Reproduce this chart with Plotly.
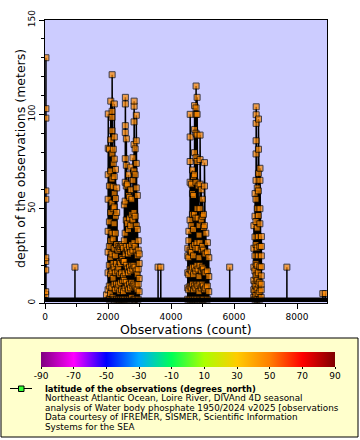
import plotly.graph_objects as go

# ---------------- data ----------------
# Observation series: each profile = first observation number + depths (m) of consecutive observations
profile_start = [
    20, 950, 1950,
    2000, 2040, 2080, 2120, 2160, 2190, 2230, 2270,
    2310, 2340, 2370, 2400, 2430, 2460, 2490,
    2515, 2540, 2575,
    2610, 2645, 2680, 2715, 2750, 2785,
    2820, 2855, 2890, 2925, 2955, 2985,
    3588, 3674,
    4530, 4562, 4600, 4640, 4675, 4710, 4740, 4785, 4820, 4855, 4885, 4915,
    4955, 4990, 5025, 5055, 5100, 5150, 5195,
    5861,
    6625, 6660, 6690, 6730, 6765, 6815, 6860,
    7676, 8817, 8893,
]
profile_depths = [
    [1.7, 4.5, 6, 17.5, 22, 24, 55, 59.4, 98, 103, 130, 1.7],
    [1.7, 19, 1.7],
    [1.7, 4.3, 1.7],
    [1, 7, 16, 27, 38, 55, 68, 82, 100.2],
    [2, 9, 20, 30, 43, 62, 81.5],
    [1, 5, 15, 24, 33, 48, 70, 86.5, 107],
    [1, 8, 17, 26, 37, 53, 65.7, 79, 91.3, 98.4, 101.6, 121],
    [3, 13, 21, 34, 50, 61.6, 74, 81.5],
    [2, 10, 19, 29, 42, 50.9, 58, 67, 76.3, 88, 105.5],
    [1, 7, 16, 25, 37, 46, 55.4, 70.8],
    [2, 10, 21, 31, 48, 61],
    [1, 8, 17, 28],
    [2, 10, 19, 30],
    [1, 6, 15, 22, 29],
    [2, 11, 21, 30],
    [1, 7, 16, 24, 31],
    [2, 12, 23, 30],
    [1, 6, 14, 22, 29],
    [2, 12, 22, 33, 52],
    [1, 8, 16, 26, 37, 54, 64, 76.5, 90.4, 94, 105.5, 109],
    [1, 11, 20, 30, 44, 62, 73, 87],
    [2, 9, 18, 28, 42, 63],
    [1, 7, 16, 26, 39, 57, 68],
    [2, 10, 19, 30, 45, 56],
    [1, 8, 17, 27, 41, 60, 72],
    [3, 11, 20, 31, 47, 55],
    [1, 9, 18, 28, 44, 65, 77],
    [2, 10, 20, 32, 48, 70, 84, 96, 104.3, 107],
    [2, 9, 19, 30, 46, 68, 81.7],
    [1, 8, 17, 27, 41, 61, 74, 86, 99.5],
    [1, 7, 15, 25, 39, 57],
    [2, 10, 18, 28, 33],
    [1, 6, 13, 21, 26, 1.7],
    [1.7, 19, 1.7],
    [1.7, 19, 1.7],
    [2, 8, 16, 25, 29],
    [1, 7, 15, 24, 33, 38],
    [2, 9, 18, 28, 44, 64, 75, 88, 100],
    [1, 8, 17, 27, 41, 63],
    [2, 10, 19, 30, 47, 58, 70.5],
    [1, 7, 15, 25, 39, 57, 67],
    [2, 9, 19, 31, 47, 68, 79.7, 92, 104.6],
    [1, 8, 17, 29, 45, 64, 77, 90, 100, 103.4, 115],
    [2, 10, 20, 32, 50, 75, 89, 100, 109],
    [1, 9, 18, 29, 45, 62],
    [1, 6, 14, 24, 36, 41],
    [2, 10, 20, 32, 50, 63, 76, 89],
    [1, 8, 17, 28, 44, 60],
    [2, 10, 19, 30, 46, 55],
    [2, 9, 18, 28, 40, 47],
    [1, 7, 16, 26, 41, 62, 74.4],
    [1, 8, 16, 26, 37],
    [2, 9, 17, 27, 32],
    [1, 6, 14, 24, 1.7],
    [1.7, 19, 1.7],
    [1, 3, 7, 12, 19, 29, 41],
    [2, 6, 10, 17, 25, 35, 46, 58],
    [1, 4, 9, 14.4, 21, 31, 43.2, 55, 65, 79, 86, 95.2, 99.8, 104],
    [2, 7, 12, 20, 29.2, 39.7, 50, 61],
    [1, 5, 10, 16, 25, 35.2, 46.4, 59.4, 68.7, 81.5, 97.5],
    [2, 6, 11, 19.2, 30, 42, 50, 65, 71.4],
    [1, 3, 7, 10, 14.4, 19.2, 25, 30, 35.2, 1.7],
    [1.7, 19, 1.7],
    [1.7, 5, 1.7],
    [1.7, 5, 1.7],
]
station_latitude = 47.2          # degrees_north (Loire River mouth)
surface_obs = [0, 8950]           # near-surface observations forming the bottom band
surface_depth = [1.7, 1.7]

x_ticks = [0, 2000, 4000, 6000, 8000]
x_minor = [1000, 3000, 5000, 7000]
y_ticks = [0, 50, 100, 150]
y_minor = [10, 20, 30, 40, 60, 70, 80, 90, 110, 120, 130, 140]
cbar_values = [-90, -70, -50, -30, -10, 10, 30, 50, 70, 90]
cbar_labels = ["-90", "-70", "-50", "-30", "-10", "10", "30", "50", "70", "90"]
cbar_colors = ["#7f007f", "#ff00ff", "#0000ff", "#00aaff", "#00ff55",
               "#aaff00", "#ffcc00", "#ff7f00", "#ff0000", "#7f0000"]

legend_title = "latitude of the observations (degrees_north)"
legend_lines = [
    "Northeast Atlantic Ocean, Loire River, DIVAnd 4D seasonal",
    "analysis of Water body phosphate 1950/2024 v2025 [observations",
    "Data courtesy of IFREMER, SISMER, Scientific Information",
    "Systems for the SEA",
]

# ---------------- build series ----------------
obs, depth = [], []
for s, ds in zip(profile_start, profile_depths):
    for i, d in enumerate(ds):
        obs.append(s + i)
        depth.append(d)
lat = [station_latitude] * len(obs)
msize = [0 if d <= surface_depth[0] else 6 for d in depth]

FONT = "DejaVu Sans"
L, R, T, B = 45, 327, 20, 303
W, H = 360, 440


def px_x(p):
    return (p - L) / (R - L)


def px_y(p):
    return (B - p) / (B - T)


cscale = [[(v + 90) / 180, c] for v, c in zip(cbar_values, cbar_colors)]

fig = go.Figure()
fig.add_trace(go.Scatter(
    x=obs, y=depth, mode="lines+markers",
    line=dict(color="black", width=1.5),
    marker=dict(symbol="square", size=msize, color=lat, cmin=-90, cmax=90,
                colorscale=cscale, line=dict(color="black", width=1),
                showscale=True,
                colorbar=dict(orientation="h", x=px_x(188), xanchor="center",
                              y=px_y(352), yanchor="top", yref="paper",
                              len=294, lenmode="pixels", thickness=15,
                              thicknessmode="pixels", outlinewidth=0,
                              xpad=0, ypad=0,
                              tickmode="array", tickvals=cbar_values, ticktext=cbar_labels,
                              ticks="outside", ticklen=2, tickcolor="black",
                              tickfont=dict(family=FONT, size=9, color="black"))),
    showlegend=False, hoverinfo="skip"))
fig.add_trace(go.Scatter(
    x=surface_obs, y=surface_depth, mode="lines",
    line=dict(color="black", width=4.5), showlegend=False, hoverinfo="skip"))

axis_common = dict(ticks="outside", tickcolor="black", tickwidth=1, ticklen=5,
                   showline=True, linecolor="black", linewidth=1, mirror=True,
                   showgrid=False, zeroline=False,
                   tickfont=dict(family=FONT, size=9, color="black"))
fig.update_layout(
    width=W, height=H,
    margin=dict(l=L, r=W - R, t=T, b=H - B, autoexpand=False),
    paper_bgcolor="white", plot_bgcolor="#ccccff",
    xaxis=dict(range=[0, 8950], tickmode="array", tickvals=x_ticks,
               minor=dict(tickmode="array", tickvals=x_minor, ticks="outside",
                          ticklen=3, tickcolor="black", showgrid=False),
               **axis_common),
    yaxis=dict(range=[0, 150], tickmode="array", tickvals=y_ticks, tickangle=-90,
               minor=dict(tickmode="array", tickvals=y_minor, ticks="outside",
                          ticklen=3, tickcolor="black", showgrid=False),
               **axis_common),
)

shapes = [
    dict(type="rect", xref="paper", yref="paper", layer="below",
         x0=px_x(1), x1=px_x(358), y0=px_y(437), y1=px_y(338),
         fillcolor="#ffffcc", line=dict(color="black", width=1)),
    dict(type="line", xref="paper", yref="paper",
         x0=px_x(10), x1=px_x(32), y0=px_y(388.5), y1=px_y(388.5),
         line=dict(color="black", width=1)),
    dict(type="rect", xref="paper", yref="paper",
         x0=px_x(18.5), x1=px_x(24), y0=px_y(391.5), y1=px_y(386),
         fillcolor="#33ff33", line=dict(color="black", width=1)),
]
fig.update_layout(shapes=shapes)

ann = [
    dict(text="Observations (count)", x=px_x(186), y=px_y(329), xref="paper", yref="paper",
         showarrow=False, xanchor="center", yanchor="middle",
         font=dict(family=FONT, size=12.5, color="black")),
    dict(text="depth of the observations (meters)", x=px_x(20), y=px_y(159),
         xref="paper", yref="paper", textangle=-90,
         showarrow=False, xanchor="center", yanchor="middle",
         font=dict(family=FONT, size=12.5, color="black")),
    dict(text="<b>" + legend_title + "</b>", x=px_x(43), y=px_y(388.5), xref="paper", yref="paper",
         showarrow=False, xanchor="left", yanchor="middle",
         font=dict(family=FONT, size=8.4, color="black")),
]
for i, t in enumerate(legend_lines):
    ann.append(dict(text=t, x=px_x(43), y=px_y(398.2 + i * 9.6), xref="paper", yref="paper",
                    showarrow=False, xanchor="left", yanchor="middle",
                    font=dict(family=FONT, size=8.8, color="black")))
fig.update_layout(annotations=ann)

fig.write_html("out.html", config={"displayModeBar": False},
               post_script="document.body.style.margin='0px';")
